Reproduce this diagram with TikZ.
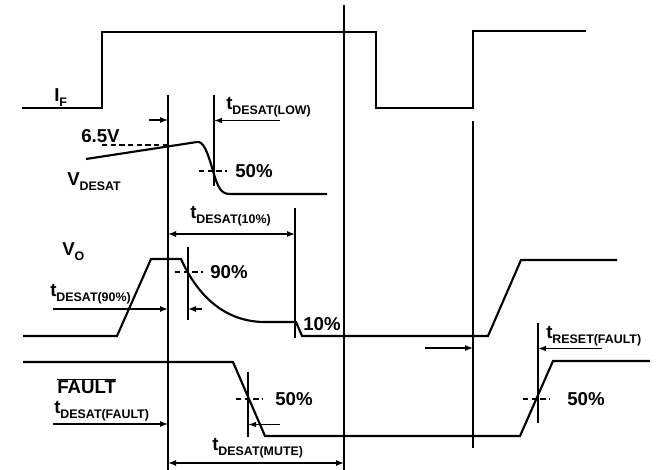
\documentclass[tikz,border=0pt]{standalone}
\usepackage{fontspec}
\setmainfont{Liberation Sans}
\usetikzlibrary{arrows.meta}
\newcommand{\subfnt}{\fontsize{9.3}{10}\selectfont}
\newcommand{\tlbl}[2]{#1\raisebox{-0.5ex}{\subfnt #2}}
\tikzset{
	wave/.style={line width=1.6pt,line join=miter},
	markline/.style={line width=0.9pt},
	dimline/.style={line width=1pt},
	lvl/.style={line width=0.9pt,dash pattern=on 4pt off 2.5pt},
	txt/.style={anchor=west,inner sep=0pt,font=\fontsize{14}{16}\selectfont\bfseries},
	tipr/.style={-{Latex[length=6pt,width=4.5pt]}},
	tipb/.style={{Latex[length=6pt,width=4.5pt]}-{Latex[length=6pt,width=4.5pt]}}
}

\begin{document}
\begin{tikzpicture}[x=0.75pt,y=-0.75pt]
		\useasboundingbox (0,0) rectangle (659,470);
		% marker lines
		\coordinate (m1t) at (168,95);   \coordinate (m1b) at (168,470);
		\coordinate (m2t) at (214,95);   \coordinate (m2b) at (214,186);
		\coordinate (m3t) at (295,208);  \coordinate (m3b) at (295,338);
		\coordinate (m4t) at (344,5);    \coordinate (m4b) at (344,470);
		\coordinate (m5t) at (473,121);  \coordinate (m5b) at (473,448);
		\coordinate (m6t) at (188,247);  \coordinate (m6b) at (188,320);
		\coordinate (m7t) at (248,372);  \coordinate (m7b) at (248,437);
		\coordinate (m8t) at (538,323);  \coordinate (m8b) at (538,423);
		\draw[markline] (m1t) -- (m1b) (m2t) -- (m2b) (m3t) -- (m3b) (m4t) -- (m4b)
			(m5t) -- (m5b) (m6t) -- (m6b) (m7t) -- (m7b) (m8t) -- (m8b);
		% waveforms
		\draw[wave] (22,108) -- (102,108) -- (102,32) -- (376,32) -- (376,108) -- (473,108) -- (473,31) -- (586,31);
		\draw[wave] (86,159) -- (197,142) .. controls (203,141) and (207,150) .. (213,171)
			.. controls (218,188) and (221,194) .. (230,194) -- (327,194);
		\draw[wave] (23,336) -- (117,336) -- (151,259) -- (181,259)
			.. controls (195,290) and (220,321) .. (263,322) -- (296,322) -- (302,336)
			-- (488,336) -- (521,260) -- (617,260);
		\draw[wave] (23,362) -- (233,362) -- (265,436) -- (520,436) -- (553,361) -- (650,361);
		% levels
		\draw[lvl] (102,145) -- (168,145);
		\draw[lvl] (199,171) -- (227,171);
		\draw[lvl] (175,272) -- (203,272);
		\draw[lvl] (236,399) -- (263,399);
		\draw[lvl] (523,399) -- (550,399);
		% labels
		\node[txt] (IF) at (54,98) {\tlbl{I}{F}};
		\node[txt] (v65) at (81,136) {6.5V};
		\node[txt] (Vdes) at (67,182) {\tlbl{V}{DESAT}};
		\node[txt] (tlow) at (226,107) {\tlbl{t}{DESAT(LOW)}};
		\node[txt] (p50a) at (235,171) {50\%};
		\node[txt] (t10) at (190,216) {\tlbl{t}{DESAT(10\%)}};
		\node[txt] (Vo) at (62,252) {\tlbl{V}{O}};
		\node[txt] (p90) at (210,272) {90\%};
		\node[txt] (t90) at (50,294) {\tlbl{t}{DESAT(90\%)}};
		\node[txt] (p10) at (303,324) {10\%};
		\node[txt] (flt) at (57,386) {$\overline{\mbox{FAULT}}$};
		\node[txt] (p50b) at (275,399) {50\%};
		\node[txt] (tflt) at (54,411) {\tlbl{t}{DESAT(FAULT)}};
		\node[txt] (tmute) at (212,448) {\tlbl{t}{DESAT(MUTE)}};
		\node[txt] (trst) at (546,336) {\tlbl{t}{RESET(FAULT)}};
		\node[txt] (p50c) at (567,399) {50\%};
		% time intervals
		\coordinate (lowa) at (149,120);  \coordinate (lowb) at (280,120.5);
		\coordinate (tena) at (168,234);  \coordinate (tenb) at (295,234);
		\coordinate (nina) at (53,309);   \coordinate (ninb) at (202,309);
		\coordinate (flta) at (53,424);   \coordinate (fltb) at (280,424.5);
		\coordinate (mutea) at (168,463); \coordinate (muteb) at (344,463);
		\coordinate (rsta) at (425,348);  \coordinate (rstb) at (602,348.5);
		\coordinate (lowe) at (214.5,120.5);
		\coordinate (flte) at (248.5,424.5);
		\coordinate (rste) at (538.5,348.5);
		\draw[dimline,tipr] (lowa) -- (168,120);
		\draw[dimline,-latex] (lowb) -- (lowe);
		\draw[dimline,tipb] (tena) -- (tenb);
		\draw[dimline,tipr] (nina) -- (168,309);
		\draw[dimline,tipr] (ninb) -- (188,309);
		\draw[dimline,tipr] (flta) -- (168,424);
		\draw[dimline,-latex] (fltb) -- (flte);
		\draw[dimline,tipb] (mutea) -- (muteb);
		\draw[dimline,tipr] (rsta) -- (473,348);
		\draw[dimline,-latex] (rstb) -- (rste);
	\end{tikzpicture}
\end{document}
